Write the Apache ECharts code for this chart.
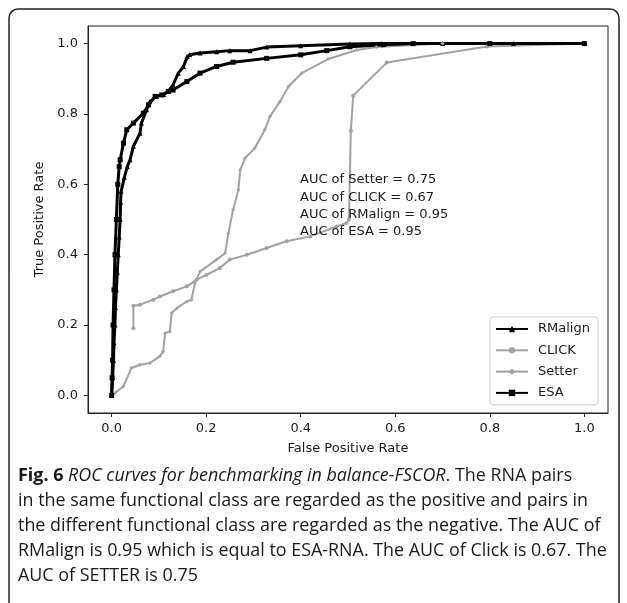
<!DOCTYPE html>
<html>
<head>
<meta charset="utf-8">
<script src="https://cdn.jsdelivr.net/npm/echarts@6/dist/echarts.min.js"></script>
<style>
html,body{margin:0;padding:0;background:#fff;}
#chart{width:627px;height:603px;}
</style>
</head>
<body>
<div id="chart"></div>
<script>
// ---- data ----
const tickValues = [0, 0.2, 0.4, 0.6, 0.8, 1.0];
const seriesNames = ['RMalign', 'CLICK', 'Setter', 'ESA'];

const rmalignFpr = [0, 0.002, 0.004, 0.005, 0.007, 0.008, 0.010, 0.012, 0.014, 0.016, 0.018, 0.019, 0.020, 0.027, 0.033, 0.039, 0.046, 0.060, 0.063, 0.074, 0.081, 0.095, 0.110, 0.120, 0.130, 0.141, 0.152, 0.160, 0.165, 0.187, 0.222, 0.250, 0.293, 0.328, 0.400, 0.504, 0.570, 0.700, 0.850, 1.0];
const rmalignTpr = [0, 0.05, 0.10, 0.15, 0.20, 0.25, 0.30, 0.35, 0.40, 0.45, 0.50, 0.55, 0.58, 0.62, 0.65, 0.67, 0.708, 0.745, 0.774, 0.812, 0.835, 0.850, 0.855, 0.864, 0.883, 0.916, 0.935, 0.963, 0.968, 0.973, 0.977, 0.980, 0.980, 0.990, 0.994, 0.999, 1.0, 1.0, 1.0, 1.0];

const clickFpr = [0.046, 0.046, 0.060, 0.088, 0.102, 0.130, 0.159, 0.180, 0.201, 0.229, 0.250, 0.286, 0.328, 0.370, 0.420, 0.476, 0.497, 0.502, 0.506, 0.511, 0.582, 0.794, 1.0];
const clickTpr = [0.191, 0.255, 0.258, 0.272, 0.281, 0.296, 0.310, 0.329, 0.343, 0.362, 0.386, 0.400, 0.419, 0.438, 0.452, 0.480, 0.490, 0.500, 0.752, 0.852, 0.946, 0.992, 1.0];

const setterFpr = [0, 0.007, 0.025, 0.042, 0.060, 0.081, 0.102, 0.109, 0.113, 0.123, 0.127, 0.138, 0.159, 0.169, 0.176, 0.187, 0.222, 0.240, 0.247, 0.257, 0.268, 0.272, 0.282, 0.303, 0.324, 0.335, 0.356, 0.374, 0.402, 0.458, 0.519, 0.560, 0.700, 1.0];
const setterTpr = [0, 0.007, 0.026, 0.078, 0.087, 0.092, 0.111, 0.125, 0.177, 0.182, 0.234, 0.248, 0.267, 0.272, 0.319, 0.352, 0.386, 0.404, 0.461, 0.528, 0.584, 0.641, 0.674, 0.703, 0.755, 0.793, 0.835, 0.878, 0.916, 0.956, 0.982, 0.990, 1.0, 1.0];

const esaFpr = [0, 0.001, 0.002, 0.003, 0.005, 0.007, 0.010, 0.013, 0.016, 0.018, 0.025, 0.032, 0.046, 0.067, 0.078, 0.092, 0.106, 0.120, 0.130, 0.159, 0.187, 0.222, 0.257, 0.328, 0.400, 0.455, 0.504, 0.575, 0.638, 0.800, 1.0];
const esaTpr = [0, 0.05, 0.10, 0.20, 0.30, 0.40, 0.50, 0.60, 0.65, 0.67, 0.717, 0.755, 0.774, 0.802, 0.826, 0.850, 0.854, 0.864, 0.868, 0.892, 0.916, 0.935, 0.947, 0.958, 0.968, 0.980, 0.991, 0.997, 1.0, 1.0, 1.0];

const aucLines = ['AUC of Setter = 0.75', 'AUC of CLICK = 0.67', 'AUC of RMalign = 0.95', 'AUC of ESA = 0.95'];

const captionLines = [
  '{b|Fig. 6} {i|ROC curves for benchmarking in balance-FSCOR}{n|. The RNA pairs}',
  'in the same functional class are regarded as the positive and pairs in',
  'the different functional class are regarded as the negative. The AUC of',
  'RMalign is 0.95 which is equal to ESA-RNA. The AUC of Click is 0.67. The',
  'AUC of SETTER is 0.75'
];

// ---- chart ----
const pairs = (xs, ys) => xs.map((x, i) => [x, ys[i]]);
const FONT = '"DejaVu Sans", sans-serif';
const CAP_FONT = '"Open Sans", "Noto Sans", sans-serif';
const BLACK = '#000000';
const GRAY = '#a2a2a2';

// fit caption font size so the widest plain line spans the caption width
const measureCtx = document.createElement('canvas').getContext('2d');
measureCtx.font = '100px ' + CAP_FONT;
const capW = Math.max.apply(null, captionLines.slice(1).map(t => measureCtx.measureText(t).width));
const CAP_SIZE = Math.min(20, Math.max(14, 100 * 589 / capW));

function lineSeries(name, data, color, symbol, size, width) {
  return {
    name: name, type: 'line', data: data,
    symbol: symbol, symbolSize: size, showSymbol: true, showAllSymbol: true,
    lineStyle: { color: color, width: width },
    itemStyle: { color: color, borderWidth: 0 },
    emphasis: { disabled: true },
    animation: false
  };
}

const captionGraphics = captionLines.map((t, i) => ({
  type: 'text', x: 18, y: 476 + i * 25, silent: true,
  style: {
    text: t, fill: '#1a1a1a', verticalAlign: 'middle', align: 'left',
    font: CAP_SIZE + 'px ' + CAP_FONT,
    rich: {
      b: { fontWeight: 'bold', fontSize: CAP_SIZE, fontFamily: CAP_FONT, fill: '#1a1a1a' },
      i: { fontStyle: 'italic', fontSize: CAP_SIZE, fontFamily: CAP_FONT, fill: '#1a1a1a' },
      n: { fontSize: CAP_SIZE, fontFamily: CAP_FONT, fill: '#1a1a1a' }
    }
  }
}));

const aucGraphics = aucLines.map((t, i) => ({
  type: 'text', x: 300, y: 180 + i * 17.3, silent: true, z: 10,
  style: { text: t, fill: '#1a1a1a', verticalAlign: 'middle', align: 'left', font: '13px ' + FONT }
}));

const chart = echarts.init(document.getElementById('chart'), null, { renderer: 'canvas' });
chart.setOption({
  animation: false,
  backgroundColor: '#ffffff',
  grid: { left: 88, top: 26, width: 520, height: 387, show: true, borderColor: '#222', borderWidth: 1, backgroundColor: 'transparent' },
  xAxis: {
    type: 'value', min: -0.05, max: 1.05,
    name: 'False Positive Rate', nameLocation: 'middle', nameGap: 29,
    nameTextStyle: { fontFamily: FONT, fontSize: 13, color: '#1a1a1a' },
    axisLine: { show: true, onZero: false, lineStyle: { color: '#222', width: 1 } },
    axisTick: { show: true, length: 4, customValues: tickValues, lineStyle: { color: '#222' } },
    axisLabel: { customValues: tickValues, formatter: v => v.toFixed(1), margin: 9, fontFamily: FONT, fontSize: 13, color: '#1a1a1a' },
    splitLine: { show: false }
  },
  yAxis: {
    type: 'value', min: -0.05, max: 1.05,
    name: 'True Positive Rate', nameLocation: 'middle', nameGap: 38,
    nameTextStyle: { fontFamily: FONT, fontSize: 13, color: '#1a1a1a' },
    axisLine: { show: true, onZero: false, lineStyle: { color: '#222', width: 1 } },
    axisTick: { show: true, length: 4, customValues: tickValues, lineStyle: { color: '#222' } },
    axisLabel: { customValues: tickValues, formatter: v => v.toFixed(1), margin: 10, fontFamily: FONT, fontSize: 13, color: '#1a1a1a' },
    splitLine: { show: false }
  },
  legend: {
    data: seriesNames, orient: 'vertical', left: 490, top: 317,
    padding: [5, 8, 5, 5], itemGap: 7.3, itemWidth: 32, itemHeight: 8,
    backgroundColor: '#fff', borderColor: '#cfcfcf', borderWidth: 1, borderRadius: 3,
    textStyle: { fontFamily: FONT, fontSize: 13, color: '#1a1a1a', lineHeight: 14, padding: [0, 0, 0, 5] },
    selectedMode: false
  },
  series: [
    lineSeries('RMalign', pairs(rmalignFpr, rmalignTpr), BLACK, 'triangle', 5, 3),
    lineSeries('CLICK', pairs(clickFpr, clickTpr), GRAY, 'circle', 4, 2),
    lineSeries('Setter', pairs(setterFpr, setterTpr), GRAY, 'diamond', 4, 2),
    lineSeries('ESA', pairs(esaFpr, esaTpr), BLACK, 'rect', 5, 3)
  ],
  graphic: [
    { type: 'rect', silent: true, shape: { x: 9, y: 9, width: 610, height: 640, r: 9 }, style: { fill: 'none', stroke: '#222', lineWidth: 1.5 } }
  ].concat(aucGraphics, captionGraphics)
});
</script>
</body>
</html>
